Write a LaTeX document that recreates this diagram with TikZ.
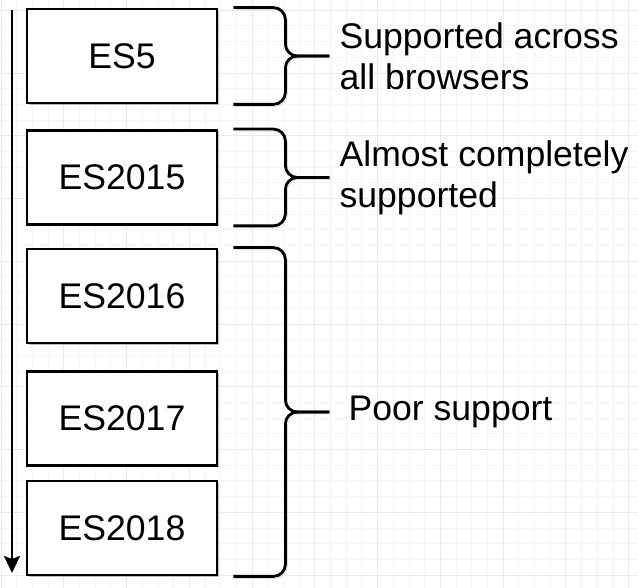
\documentclass[tikz,border=0pt]{standalone}
\usepackage{fontspec}
\setmainfont{Liberation Sans}
\usetikzlibrary{arrows.meta,calc,shadows}
\definecolor{ink}{HTML}{000000}
\definecolor{gridfine}{HTML}{F5F5F7}
\definecolor{gridbold}{HTML}{EAEAEE}
\definecolor{shade}{HTML}{9A9A9A}

\begin{document}
\begin{tikzpicture}[x=1pt,y=1pt,font=\fontsize{35.6}{41}\selectfont,
    esbox/.style={draw=ink,line width=2.8pt,fill=white,minimum width=190pt,
      minimum height=94pt,inner sep=0pt,
      drop shadow={shadow xshift=2pt,shadow yshift=-2pt,fill=black,opacity=0.25}},
    brace/.style={draw=ink,line width=2.8pt,rounded corners=12pt,
      preaction={draw=shade,opacity=0.5,transform canvas={shift={(2pt,-2pt)}}}},
    note/.style={anchor=west,align=left,inner sep=0pt,text=ink}]

  \useasboundingbox (0,0) rectangle (638,588);

  % Faint paper grid behind everything.
  \begin{scope}
    \clip (0,0) rectangle (638,588);
    \draw[gridfine,line width=0.8pt,shift={(1,13)},step=15.69pt] (-20,-20) grid (660,600);
    \draw[gridbold,line width=0.9pt,shift={(1,13)},step=62.75pt] (-70,-70) grid (700,640);
  \end{scope}

  \node[esbox] (es5)    at (122,532)   {ES5};
  \node[esbox] (es2015) at (122,410.5) {ES2015};
  \node[esbox] (es2016) at (122,292)   {ES2016};
  \node[esbox] (es2017) at (122,169.5) {ES2017};
  \node[esbox] (es2018) at (122,60)    {ES2018};

  % Time runs downwards.
  \coordinate (start) at (12,578);
  \coordinate (finish) at (12,15);
  \draw[-{Stealth[length=17pt,width=16pt,inset=3pt]},line width=2.4pt,ink]
    (start) -- (finish);

  \node[note] (all)    at ($(es5.east)+(121,0)$)    {Supported across\\all browsers};
  \node[note] (almost) at ($(es2015.east)+(121,0)$) {Almost completely\\supported};
  \coordinate (poormid) at ($(es2016.north east)!0.5!(es2018.south east)$);
  \node[note] (poor)   at ($(poormid)+(130,0)$)     {Poor support};

  % Curly brackets, drawn as two rounded halves meeting at the tip.
  \draw[brace] ($(es5.north east)+(15,0)$) -| ($(es5.east)+(67,0)$) -- ($(all.west)+(-10,0)$);
  \draw[brace] ($(es5.south east)+(15,0)$) -| ($(es5.east)+(67,0)$) -- ($(all.west)+(-10,0)$);

  \draw[brace] ($(es2015.north east)+(15,0)$) -| ($(es2015.east)+(67,0)$) -- ($(almost.west)+(-10,0)$);
  \draw[brace] ($(es2015.south east)+(15,0)$) -| ($(es2015.east)+(67,0)$) -- ($(almost.west)+(-10,0)$);

  \draw[brace] ($(es2016.north east)+(15,0)$) -| ($(poormid)+(67,0)$) -- ($(poor.west)+(-19,0)$);
  \draw[brace] ($(es2018.south east)+(15,0)$) -| ($(poormid)+(67,0)$) -- ($(poor.west)+(-19,0)$);
\end{tikzpicture}
\end{document}
